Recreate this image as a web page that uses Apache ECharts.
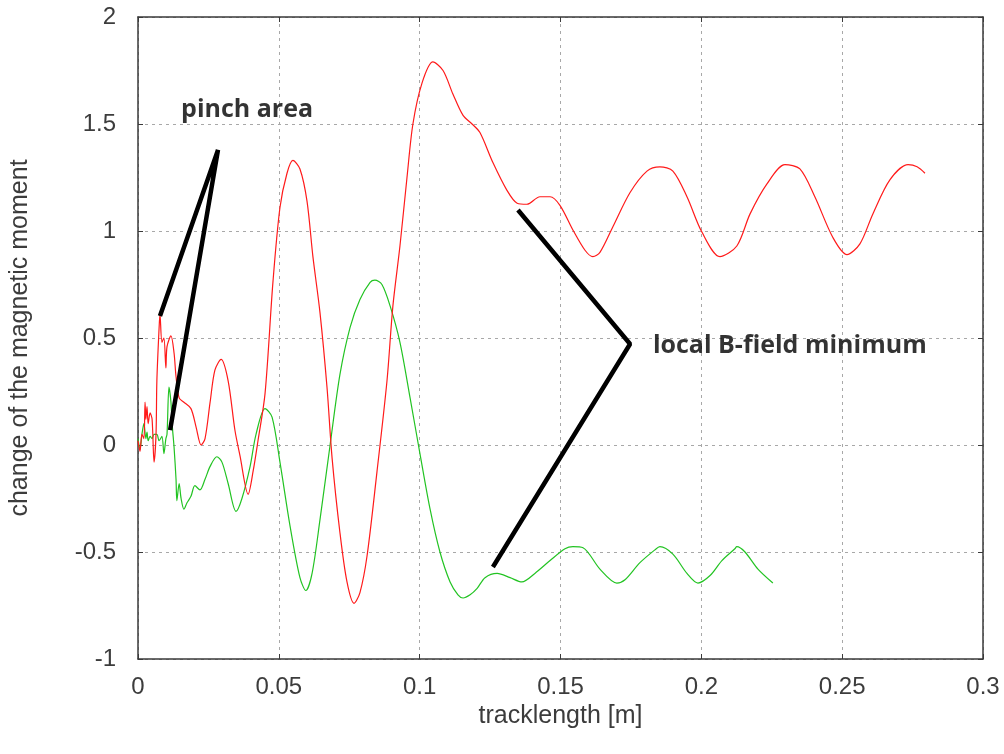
<!DOCTYPE html>
<html>
<head>
<meta charset="utf-8">
<script src="https://cdn.jsdelivr.net/npm/echarts@6/dist/echarts.min.js"></script>
<style>html,body{margin:0;padding:0;background:#fff}#c{width:1004px;height:754px}</style>
</head>
<body>
<div id="c"></div>
<script>
// ---- data ----
const redX = [0.0000,0.0007,0.0014,0.0021,0.0025,0.0028,0.0032,0.0036,0.0043,0.0050,0.0057,0.0064,0.0067,0.0075,0.0078,0.0085,0.0092,0.0099,0.0103,0.0117,0.0128,0.0135,0.0146,0.0163,0.0188,0.0206,0.0224,0.0238,0.0256,0.0273,0.0295,0.0320,0.0344,0.0362,0.0391,0.0409,0.0426,0.0451,0.0479,0.0504,0.0529,0.0550,0.0575,0.0600,0.0621,0.0646,0.0671,0.0689,0.0717,0.0742,0.0767,0.0788,0.0813,0.0848,0.0884,0.0905,0.0930,0.0955,0.0976,0.1008,0.1047,0.1083,0.1118,0.1154,0.1186,0.1214,0.1260,0.1310,0.1346,0.1381,0.1427,0.1463,0.1498,0.1544,0.1587,0.1615,0.1640,0.1686,0.1747,0.1807,0.1853,0.1899,0.1949,0.2002,0.2066,0.2126,0.2173,0.2233,0.2297,0.2350,0.2403,0.2467,0.2517,0.2563,0.2609,0.2670,0.2734,0.2766,0.2794];
const redY = [0.02,-0.03,0.05,0.03,0.20,0.12,0.18,0.10,0.15,0.12,-0.08,0.05,0.30,0.55,0.61,0.48,0.50,0.36,0.46,0.51,0.43,0.32,0.22,0.20,0.17,0.085,0.00,0.03,0.20,0.35,0.40,0.30,0.07,-0.05,-0.23,-0.12,0.02,0.24,0.76,1.11,1.27,1.33,1.29,1.14,0.88,0.62,0.27,-0.06,-0.41,-0.64,-0.74,-0.69,-0.52,-0.13,0.30,0.65,0.93,1.25,1.50,1.69,1.79,1.75,1.64,1.54,1.50,1.46,1.32,1.19,1.13,1.125,1.16,1.16,1.12,1.005,0.91,0.88,0.90,1.02,1.18,1.28,1.30,1.28,1.16,0.995,0.88,0.93,1.08,1.22,1.31,1.29,1.16,0.97,0.89,0.94,1.08,1.24,1.31,1.30,1.27];
const greenX = [0.0000,0.0007,0.0014,0.0021,0.0028,0.0032,0.0036,0.0043,0.0050,0.0057,0.0067,0.0075,0.0085,0.0092,0.0099,0.0103,0.0110,0.0117,0.0121,0.0128,0.0135,0.0138,0.0146,0.0153,0.0163,0.0174,0.0188,0.0202,0.0220,0.0238,0.0256,0.0280,0.0298,0.0320,0.0348,0.0369,0.0398,0.0419,0.0451,0.0476,0.0504,0.0540,0.0575,0.0596,0.0618,0.0646,0.0682,0.0717,0.0753,0.0788,0.0824,0.0841,0.0866,0.0895,0.0930,0.0966,0.1001,0.1037,0.1072,0.1108,0.1136,0.1154,0.1179,0.1204,0.1232,0.1275,0.1321,0.1363,0.1409,0.1463,0.1516,0.1544,0.1580,0.1640,0.1700,0.1729,0.1782,0.1835,0.1853,0.1899,0.1949,0.1988,0.2031,0.2073,0.2119,0.2126,0.2155,0.2201,0.2254];
const greenY = [0.03,-0.02,0.05,0.10,0.03,0.06,0.02,0.04,0.03,0.05,0.05,0.02,0.04,-0.04,0.03,0.05,0.27,0.20,0.10,-0.01,-0.16,-0.26,-0.18,-0.25,-0.30,-0.27,-0.24,-0.19,-0.21,-0.16,-0.10,-0.055,-0.08,-0.18,-0.31,-0.25,-0.10,0.05,0.17,0.13,-0.08,-0.38,-0.62,-0.68,-0.60,-0.35,0.00,0.33,0.55,0.68,0.76,0.77,0.75,0.65,0.48,0.22,-0.04,-0.30,-0.50,-0.64,-0.70,-0.715,-0.70,-0.67,-0.62,-0.60,-0.62,-0.64,-0.60,-0.54,-0.485,-0.475,-0.48,-0.58,-0.645,-0.63,-0.55,-0.49,-0.475,-0.51,-0.60,-0.645,-0.61,-0.54,-0.485,-0.475,-0.50,-0.58,-0.645];
const pinchLine = [[0.0078,0.603],[0.0284,1.379],[0.0114,0.07]];
const bFieldLine = [[0.1349,1.098],[0.1747,0.472],[0.1260,-0.570]];
const pinchLabel = {text:'pinch area', at:[0.0153,1.565]};
const bFieldLabel = {text:'local B-field minimum', at:[0.1828,0.463]};
const xTicks = {min:0, max:0.3, step:0.05};
const yTicks = {min:-1, max:2, step:0.5};
const xName = 'tracklength [m]';
const yName = 'change of the magnetic moment';

// ---- chart ----
const zip = (a,b) => a.map((v,i)=>[v,b[i]]);
const font = 'Liberation Sans, Arial, sans-serif';
const chart = echarts.init(document.getElementById('c'), null, {renderer:'canvas'});
const gridDash = {show:true, lineStyle:{color:'#a8a8a8', type:[3,4], width:1}};
const axLine = {show:true, onZero:false, lineStyle:{color:'#3a3a3a', width:1.5}};
const tickIn = {show:true, inside:true, length:5, lineStyle:{color:'#3a3a3a', width:1}};
const txt = {fontFamily:font, fontSize:24, color:'#3c3c3c'};
chart.setOption({
  animation:false,
  backgroundColor:'#fff',
  grid:{left:138, right:21, top:17, bottom:95, containLabel:false},
  xAxis:[{
    type:'value', min:xTicks.min, max:xTicks.max, interval:xTicks.step,
    name:xName, nameLocation:'middle', nameGap:43,
    nameTextStyle:Object.assign({}, txt, {fontSize:25}),
    axisLine:axLine, axisTick:tickIn, splitLine:gridDash,
    axisLabel:Object.assign({margin:16}, txt)
  },{
    type:'value', position:'top', min:xTicks.min, max:xTicks.max, interval:xTicks.step,
    axisLine:axLine, axisTick:tickIn, splitLine:{show:false}, axisLabel:{show:false}
  }],
  yAxis:[{
    type:'value', min:yTicks.min, max:yTicks.max, interval:yTicks.step,
    name:yName, nameLocation:'middle', nameGap:105,
    nameTextStyle:Object.assign({}, txt, {fontSize:25}),
    axisLine:axLine, axisTick:tickIn, splitLine:gridDash,
    axisLabel:Object.assign({margin:22}, txt)
  },{
    type:'value', position:'right', min:yTicks.min, max:yTicks.max, interval:yTicks.step,
    axisLine:axLine, axisTick:tickIn, splitLine:{show:false}, axisLabel:{show:false}
  }],
  series:[
    {type:'line', data:zip(redX,redY), showSymbol:false, smooth:0.3, lineStyle:{color:'#ff1a1a', width:1.2}, z:3},
    {type:'line', data:zip(greenX,greenY), showSymbol:false, smooth:0.3, lineStyle:{color:'#22c322', width:1.2}, z:2},
    {type:'line', data:pinchLine, showSymbol:false, lineStyle:{color:'#000', width:4.5}, z:5, silent:true},
    {type:'line', data:bFieldLine, showSymbol:false, lineStyle:{color:'#000', width:4.5}, z:5, silent:true},
    {type:'scatter', symbolSize:0, silent:true, z:6,
     data:[{value:pinchLabel.at, name:pinchLabel.text},{value:bFieldLabel.at, name:bFieldLabel.text}],
     label:{show:true, position:'right', distance:0, formatter:p=>p.name,
            fontFamily:'Open Sans, sans-serif', fontWeight:'bold', fontSize:25, color:'#000'}}
  ]
});
</script>
</body>
</html>
